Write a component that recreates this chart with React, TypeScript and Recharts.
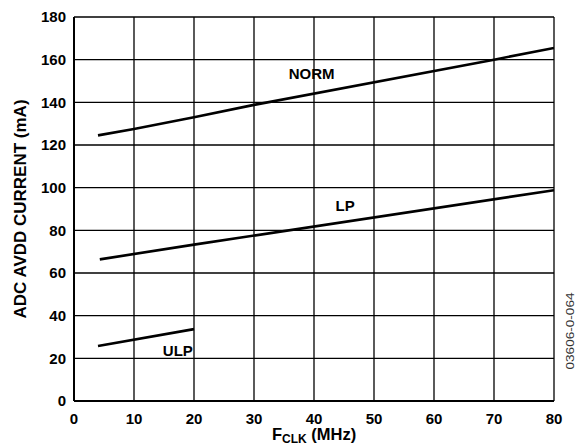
import React from "react";
import { LineChart, Line, XAxis, YAxis, CartesianGrid, ReferenceDot } from "recharts";

const xTicks = [0, 10, 20, 30, 40, 50, 60, 70, 80];
const yTicks = [0, 20, 40, 60, 80, 100, 120, 140, 160, 180];

const normData = [
  { f: 4, i: 124.5 },
  { f: 10, i: 127.5 },
  { f: 20, i: 133 },
  { f: 30, i: 138.8 },
  { f: 70, i: 160 },
  { f: 80, i: 165.5 },
];
const lpData = [
  { f: 4.3, i: 66.4 },
  { f: 20, i: 73.3 },
  { f: 80, i: 98.8 },
];
const ulpData = [
  { f: 4, i: 25.8 },
  { f: 20, i: 33.7 },
];

const seriesLabels = [
  { name: "NORM", f: 39.6, i: 153.3 },
  { name: "LP", f: 45.2, i: 91.8 },
  { name: "ULP", f: 17.3, i: 23.9 },
];

const FONT = "'Liberation Sans', Arial, sans-serif";

const tickStyle = { fontFamily: FONT, fontSize: 15, fontWeight: 700, fill: "#000" };

const SeriesLabel = (props: any) => {
  const { viewBox, value } = props;
  const cx = viewBox.x + (viewBox.width || 0) / 2;
  const cy = viewBox.y + (viewBox.height || 0) / 2;
  return (
    <text x={cx} y={cy} textAnchor="middle" dominantBaseline="central" style={tickStyle}>
      {value}
    </text>
  );
};

const XTitle = (props: any) => {
  const { viewBox } = props;
  const cx = viewBox.x + viewBox.width / 2;
  return (
    <text x={cx} y={440} textAnchor="middle" style={{ ...tickStyle, fontSize: 16.5 }}>
      <tspan>F</tspan>
      <tspan dy={3} fontSize={12}>CLK</tspan>
      <tspan dy={-3}> (MHz)</tspan>
    </text>
  );
};

const YTitle = (props: any) => {
  const { viewBox } = props;
  const cy = viewBox.y + viewBox.height / 2;
  return (
    <g>
      <text
        x={26}
        y={cy}
        textAnchor="middle"
        transform={`rotate(-90 26 ${cy})`}
        style={{ ...tickStyle, fontSize: 17 }}
      >
        ADC AVDD CURRENT (mA)
      </text>
      <text
        x={574}
        y={331}
        textAnchor="middle"
        transform={`rotate(-90 574 331)`}
        textLength={77}
        lengthAdjust="spacingAndGlyphs"
        style={{ fontFamily: FONT, fontSize: 10, fill: "#333" }}
      >
        03606-0-064
      </text>
    </g>
  );
};

export default function App() {
  return (
    <div style={{ position: "absolute", left: 0, top: 0, width: 582, height: 446, background: "#fff" }}>
      <LineChart width={582} height={446} margin={{ top: 17, right: 28, bottom: 15, left: 34 }}>
        <CartesianGrid stroke="#000" strokeWidth={1.3} xAxisId="b" yAxisId="l" />
        <XAxis
          xAxisId="b"
          dataKey="f"
          type="number"
          domain={[0, 80]}
          ticks={xTicks}
          interval={0}
          tickLine={false}
          tickMargin={6}
          axisLine={{ stroke: "#000", strokeWidth: 2 }}
          tick={tickStyle}
          height={30}
          allowDataOverflow
          label={<XTitle />}
        />
        <XAxis
          xAxisId="t"
          orientation="top"
          type="number"
          domain={[0, 80]}
          ticks={xTicks}
          tick={false}
          tickLine={false}
          height={0}
          axisLine={{ stroke: "#000", strokeWidth: 2 }}
        />
        <YAxis
          yAxisId="l"
          type="number"
          domain={[0, 180]}
          ticks={yTicks}
          interval={0}
          tickLine={false}
          axisLine={{ stroke: "#000", strokeWidth: 2 }}
          tick={tickStyle}
          width={40}
          label={<YTitle />}
        />
        <YAxis
          yAxisId="r"
          orientation="right"
          type="number"
          domain={[0, 180]}
          ticks={yTicks}
          tick={false}
          tickLine={false}
          width={0}
          axisLine={{ stroke: "#000", strokeWidth: 2 }}
        />
        <Line xAxisId="b" yAxisId="l" data={normData} dataKey="i" type="linear" stroke="#000" strokeWidth={2.6} dot={false} isAnimationActive={false} />
        <Line xAxisId="b" yAxisId="l" data={lpData} dataKey="i" type="linear" stroke="#000" strokeWidth={2.6} dot={false} isAnimationActive={false} />
        <Line xAxisId="b" yAxisId="l" data={ulpData} dataKey="i" type="linear" stroke="#000" strokeWidth={2.6} dot={false} isAnimationActive={false} />
        {seriesLabels.map((s) => (
          <ReferenceDot
            key={s.name}
            xAxisId="b"
            yAxisId="l"
            x={s.f}
            y={s.i}
            r={0}
            fill="none"
            stroke="none"
            label={<SeriesLabel value={s.name} />}
          />
        ))}
      </LineChart>
    </div>
  );
}
